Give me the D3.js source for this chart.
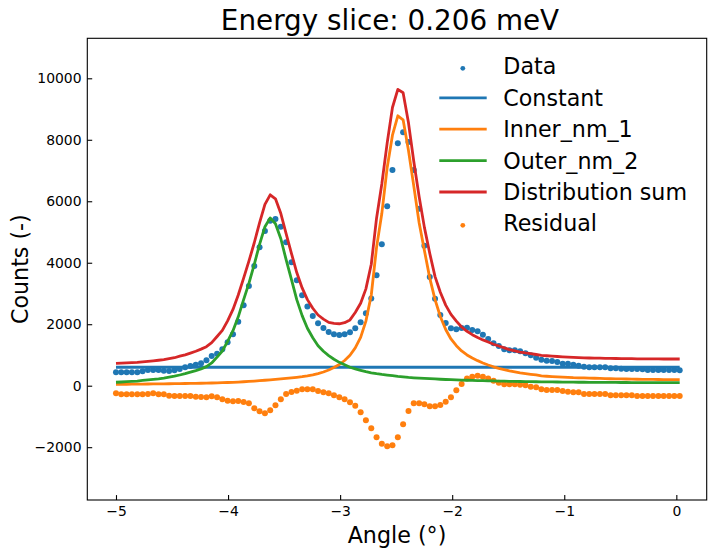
<!DOCTYPE html>
<html>
<head>
<meta charset="utf-8">
<script src="https://cdn.jsdelivr.net/npm/d3@7"></script>
<style>
	body { margin: 0; background: #fff; }
	text { font-family: "DejaVu Sans", sans-serif; fill: #000; }
</style>
</head>
<body>
<svg id="chart"></svg>
<script>
// angle of every sample (deg)
var angles = [-5.000, -4.953, -4.905, -4.858, -4.810, -4.763, -4.715, -4.668, -4.620, -4.573,
	-4.526, -4.478, -4.431, -4.383, -4.336, -4.288, -4.241, -4.193, -4.146, -4.098,
	-4.051, -4.004, -3.956, -3.909, -3.861, -3.814, -3.766, -3.719, -3.671, -3.624,
	-3.577, -3.529, -3.482, -3.434, -3.387, -3.339, -3.292, -3.244, -3.197, -3.149,
	-3.102, -3.055, -3.007, -2.960, -2.912, -2.865, -2.817, -2.770, -2.722, -2.675,
	-2.628, -2.580, -2.533, -2.485, -2.438, -2.390, -2.343, -2.295, -2.248, -2.200,
	-2.153, -2.106, -2.058, -2.011, -1.963, -1.916, -1.868, -1.821, -1.773, -1.726,
	-1.679, -1.631, -1.584, -1.536, -1.489, -1.441, -1.394, -1.346, -1.299, -1.251,
	-1.204, -1.157, -1.109, -1.062, -1.014, -0.967, -0.919, -0.872, -0.824, -0.777,
	-0.730, -0.682, -0.635, -0.587, -0.540, -0.492, -0.445, -0.397, -0.350, -0.302,
	-0.255, -0.208, -0.160, -0.113, -0.065, -0.018, 0.030];

var counts = [436, 436, 436, 436, 436, 468, 511, 511, 511, 488,
	478, 500, 543, 599, 641, 683, 729, 826, 966, 1041,
	1184, 1412, 1672, 2082, 2615, 3243, 3894, 4502, 5033, 5368,
	5423, 5172, 4665, 4014, 3429, 2941, 2580, 2267, 2035, 1877,
	1747, 1672, 1649, 1672, 1737, 1867, 2062, 2355, 2835, 3596,
	4600, 5840, 7017, 7885, 8243, 7928, 7017, 5760, 4550, 3536,
	2825, 2300, 2040, 1867, 1835, 1877, 1887, 1812, 1775, 1656,
	1519, 1384, 1291, 1184, 1152, 1152, 1119, 1054, 989, 911,
	846, 813, 804, 771, 716, 716, 683, 651, 618, 599,
	599, 599, 599, 566, 566, 553, 543, 543, 543, 533,
	511, 511, 511, 511, 511, 511, 500];

var constant = [600, 600, 600, 600, 600, 600, 600, 600, 600, 600,
	600, 600, 600, 600, 600, 600, 600, 600, 600, 600,
	600, 600, 600, 600, 600, 600, 600, 600, 600, 600,
	600, 600, 600, 600, 600, 600, 600, 600, 600, 600,
	600, 600, 600, 600, 600, 600, 600, 600, 600, 600,
	600, 600, 600, 600, 600, 600, 600, 600, 600, 600,
	600, 600, 600, 600, 600, 600, 600, 600, 600, 600,
	600, 600, 600, 600, 600, 600, 600, 600, 600, 600,
	600, 600, 600, 600, 600, 600, 600, 600, 600, 600,
	600, 600, 600, 600, 600, 600, 600, 600, 600, 600,
	600, 600, 600, 600, 600, 600, 600];

var inner = [45, 46, 48, 49, 51, 53, 55, 57, 59, 61,
	63, 66, 68, 71, 74, 77, 80, 84, 88, 93,
	98, 104, 111, 119, 128, 138, 150, 163, 177, 192,
	207, 222, 238, 255, 274, 295, 322, 355, 395, 445,
	510, 590, 690, 820, 990, 1230, 1570, 2100, 2950, 4500,
	5600, 7100, 8150, 8780, 8650, 7650, 6500, 5300, 4400, 3500,
	2800, 2250, 1830, 1520, 1300, 1130, 1000, 900, 815, 740,
	675, 615, 565, 520, 482, 450, 420, 395, 372, 350,
	318, 308, 298, 289, 281, 274, 262, 257, 252, 247,
	242, 237, 230, 227, 224, 221, 218, 214, 210, 208,
	206, 204, 202, 200, 198, 196, 195];

var outer = [112, 120, 130, 140, 152, 170, 188, 205, 225, 250,
	280, 310, 348, 390, 440, 490, 545, 620, 740, 930,
	1130, 1440, 1790, 2240, 2800, 3330, 3950, 4600, 5170, 5460,
	5270, 4780, 4100, 3450, 2800, 2280, 1870, 1560, 1300, 1120,
	980, 860, 760, 680, 600, 550, 500, 455, 420, 390,
	365, 345, 325, 305, 290, 270, 258, 247, 237, 228,
	219, 210, 202, 195, 189, 183, 177, 172, 167, 162,
	158, 154, 150, 146, 143, 140, 137, 134, 131, 128,
	126, 124, 122, 120, 118, 116, 115, 113, 112, 111,
	110, 109, 108, 107, 106, 105, 104, 103, 102, 101,
	101, 100, 100, 99, 99, 98, 98];

var distSum = [728, 735, 745, 752, 760, 775, 790, 808, 828, 850,
	878, 910, 960, 1005, 1060, 1120, 1190, 1270, 1400, 1600,
	1800, 2110, 2480, 2950, 3500, 4050, 4650, 5300, 5900, 6210,
	6080, 5600, 4950, 4300, 3680, 3180, 2800, 2520, 2300, 2165,
	2060, 2030, 2015, 2050, 2140, 2380, 2680, 3150, 3950, 5450,
	6560, 7900, 9050, 9640, 9530, 8550, 7300, 6150, 5150, 4300,
	3550, 3040, 2620, 2320, 2100, 1910, 1770, 1660, 1570, 1490,
	1420, 1350, 1290, 1230, 1175, 1130, 1095, 1065, 1040, 1015,
	990, 975, 962, 950, 940, 930, 920, 913, 907, 902,
	898, 894, 891, 888, 885, 883, 880, 878, 876, 874,
	872, 871, 870, 869, 869, 868, 868];

var residual = [-247, -280, -280, -280, -280, -280, -270, -247, -280, -280,
	-325, -335, -335, -335, -335, -358, -368, -377, -345, -377,
	-442, -488, -507, -498, -530, -573, -735, -833, -898, -800,
	-638, -442, -270, -205, -163, -117, -117, -117, -172, -216,
	-248, -314, -378, -443, -541, -650, -867, -1127, -1387, -1680,
	-1886, -1971, -1939, -1680, -1256, -823, -574, -574, -607, -672,
	-672, -628, -520, -378, -150, 55, 235, 290, 320, 290,
	235, 160, 100, 45, 45, 45, 34, 12, -33, -52,
	-117, -140, -140, -140, -172, -195, -215, -215, -270, -270,
	-270, -270, -270, -312, -312, -312, -312, -312, -335, -335,
	-335, -335, -335, -335, -335, -335, -335];

var xTicks = [-5, -4, -3, -2, -1, 0];
var yTicks = [-2000, 0, 2000, 4000, 6000, 8000, 10000];
var legendLabels = ['Data', 'Constant', 'Inner_nm_1', 'Outer_nm_2', 'Distribution sum', 'Residual'];

function makeChart() {
	let w = 717;
	let h = 558;
	let left = 87.3, right = 706.7, top = 38.3, bottom = 500;

	let svg = d3.select('#chart')
		.attr('width', w)
		.attr('height', h);

	let x = d3.scaleLinear().domain([-5.256, 0.271]).range([left, right]);
	let y = d3.scaleLinear().domain([-3718, 11301]).range([bottom, top]);

	let minus = v => d3.format('d')(v).replace('-', '\u2212');

	let plot = svg.append('g');
	plot.append('clipPath').attr('id', 'clip')
		.append('rect')
		.attr('x', left).attr('y', top)
		.attr('width', right - left).attr('height', bottom - top);

	let inside = plot.append('g').attr('clip-path', 'url(#clip)');

	// scatter first, lines above them like matplotlib does
	let dots = [
		{ vals: counts, color: '#1f77b4' },
		{ vals: residual, color: '#ff7f0e' }
	];
	dots.forEach(s => {
		inside.append('g')
			.selectAll('circle')
			.data(angles)
			.enter()
			.append('circle')
			.attr('cx', d => x(d))
			.attr('cy', (d, i) => y(s.vals[i]))
			.attr('r', 3)
			.style('fill', s.color);
	});

	let lines = [
		{ vals: constant, color: '#1f77b4' },
		{ vals: inner, color: '#ff7f0e' },
		{ vals: outer, color: '#2ca02c' },
		{ vals: distSum, color: '#d62728' }
	];
	lines.forEach(s => {
		let line = d3.line()
			.x(d => x(d))
			.y((d, i) => y(s.vals[i]));
		inside.append('path')
			.datum(angles)
			.attr('d', line)
			.style('fill', 'none')
			.style('stroke', s.color)
			.style('stroke-width', 2.8)
			.style('stroke-linejoin', 'round');
	});

	// axes, ticks pointing inward
	let xAxis = d3.axisBottom(x)
		.tickValues(xTicks)
		.tickFormat(minus)
		.tickSizeInner(-4.9)
		.tickSizeOuter(0)
		.tickPadding(6.6);
	let gx = svg.append('g')
		.attr('transform', 'translate(0,' + bottom + ')')
		.call(xAxis);

	let yAxis = d3.axisLeft(y)
		.tickValues(yTicks)
		.tickFormat(minus)
		.tickSizeInner(-4.9)
		.tickSizeOuter(0)
		.tickPadding(5.8);
	let gy = svg.append('g')
		.attr('transform', 'translate(' + left + ',0)')
		.call(yAxis);

	[gx, gy].forEach(g => {
		g.select('.domain').remove();
		g.selectAll('line').style('stroke', '#000').style('stroke-width', 1.1);
		g.selectAll('text')
			.style('font-family', '"DejaVu Sans", sans-serif')
			.style('font-size', '13.9px')
			.style('fill', '#000');
	});

	svg.append('rect')
		.attr('x', left).attr('y', top)
		.attr('width', right - left).attr('height', bottom - top)
		.style('fill', 'none')
		.style('stroke', '#000')
		.style('stroke-width', 1.1);

	svg.append('text')
		.attr('x', 390)
		.attr('y', 30)
		.style('font-size', '27.8px')
		.style('text-anchor', 'middle')
		.text('Energy slice: 0.206 meV');

	svg.append('text')
		.attr('x', (left + right) / 2)
		.attr('y', 543)
		.style('font-size', '22.2px')
		.style('text-anchor', 'middle')
		.text('Angle (\u00b0)');

	svg.append('text')
		.attr('transform', 'translate(27.5,' + (top + bottom) / 2 + ') rotate(-90)')
		.style('font-size', '22.2px')
		.style('text-anchor', 'middle')
		.text('Counts (-)');

	// legend, no frame
	let legendColors = ['#1f77b4', '#1f77b4', '#ff7f0e', '#2ca02c', '#d62728', '#ff7f0e'];
	let legendDots = [true, false, false, false, false, true];
	let leg = svg.selectAll('.legend')
		.data(legendLabels)
		.enter()
		.append('g')
		.classed('legend', true)
		.attr('transform', (d, i) => 'translate(0,' + (66.4 + i * 31.4) + ')');

	leg.filter((d, i) => legendDots[i])
		.append('circle')
		.attr('cx', 462.8)
		.attr('cy', 1.9)
		.attr('r', 2.4)
		.style('fill', (d) => legendColors[legendLabels.indexOf(d)]);

	leg.filter((d, i) => !legendDots[i])
		.append('line')
		.attr('x1', 439.3)
		.attr('x2', 486.7)
		.style('stroke', (d) => legendColors[legendLabels.indexOf(d)])
		.style('stroke-width', 2.8);

	leg.append('text')
		.attr('x', 503.3)
		.attr('y', 8)
		.style('font-size', '22.2px')
		.text(d => d);
}

window.onload = function () {
	makeChart();
}
</script>
</body>
</html>
